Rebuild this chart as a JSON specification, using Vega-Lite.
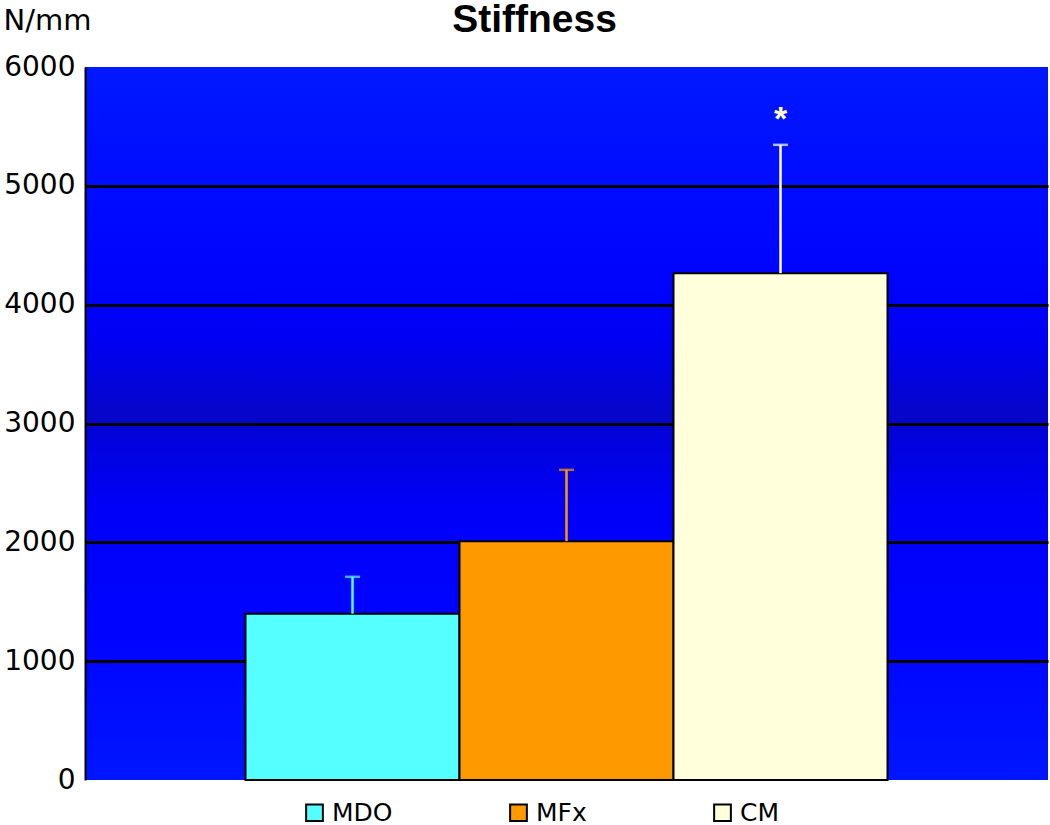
{
  "$schema": "https://vega.github.io/schema/vega-lite/v6.json",
  "autosize": "none",
  "width": 963,
  "height": 713,
  "padding": {"left": 85, "top": 67, "right": 2, "bottom": 45},
  "background": "white",
  "view": {
    "stroke": null,
    "fill": {
      "gradient": "linear", "x1": 0, "y1": 0, "x2": 0, "y2": 1,
      "stops": [
        {"offset": 0, "color": "#0018ff"},
        {"offset": 0.25, "color": "#0006ff"},
        {"offset": 0.38, "color": "#0000f4"},
        {"offset": 0.49, "color": "#0606c8"},
        {"offset": 0.52, "color": "#0202dc"},
        {"offset": 0.62, "color": "#0000f8"},
        {"offset": 0.8, "color": "#0004ff"},
        {"offset": 1, "color": "#0016ff"}
      ]
    }
  },
  "data": {
    "values": [
      {"group": "MDO", "mean": 1400, "upper": 1710, "sig": ""},
      {"group": "MFx", "mean": 2010, "upper": 2610, "sig": ""},
      {"group": "CM", "mean": 4265, "upper": 5345, "sig": "*"}
    ]
  },
  "encoding": {
    "x": {
      "field": "group",
      "type": "nominal",
      "sort": ["MDO", "MFx", "CM"],
      "scale": {"paddingInner": 0, "paddingOuter": 0.75},
      "axis": {
        "orient": "top",
        "labels": false,
        "ticks": false,
        "domain": false,
        "grid": false,
        "title": "Stiffness",
        "titleFont": "Liberation Sans",
        "titleFontSize": 39,
        "titleFontWeight": "bold",
        "titleColor": "black",
        "titleAlign": "center",
        "titleBaseline": "alphabetic",
        "titleX": 449,
        "titleY": -36
      }
    }
  },
  "layer": [
    {
      "mark": {"type": "bar", "strokeWidth": 2, "opacity": 1},
      "encoding": {
        "y": {
          "field": "mean",
          "type": "quantitative",
          "scale": {"domain": [0, 6000], "nice": false},
          "axis": {
            "values": [0, 1000, 2000, 3000, 4000, 5000, 6000],
            "format": "d",
            "title": "N/mm",
            "titleAngle": 0,
            "titleX": -82,
            "titleY": -38,
            "titleAlign": "left",
            "titleBaseline": "alphabetic",
            "titleFont": "DejaVu Sans",
            "titleFontSize": 29,
            "titleFontWeight": "normal",
            "titleColor": "black",
            "labelFont": "DejaVu Sans",
            "labelFontSize": 28,
            "labelColor": "black",
            "labelPadding": 10,
            "ticks": false,
            "domain": true,
            "domainColor": "black",
            "domainWidth": 2,
            "grid": true,
            "gridColor": "black",
            "gridWidth": 3,
            "gridOpacity": {"condition": {"test": "datum.value == 0 || datum.value == 6000", "value": 0}, "value": 1}
          }
        },
        "fill": {
          "field": "group",
          "type": "nominal",
          "sort": ["MDO", "MFx", "CM"],
          "scale": {"domain": ["MDO", "MFx", "CM"], "range": ["#55ffff", "#ff9900", "#ffffdc"]},
          "legend": {
            "title": null,
            "orient": "none",
            "direction": "horizontal",
            "columns": 3,
            "gridAlign": "all",
            "columnPadding": 113,
            "legendX": 217,
            "legendY": 733,
            "symbolType": "square",
            "symbolSize": 280,
            "symbolStrokeWidth": 2,
            "symbolOpacity": 1,
            "labelFont": "DejaVu Sans",
            "labelFontSize": 25,
            "labelColor": "black",
            "labelOffset": 5,
            "labelLimit": 200
          }
        },
        "stroke": {
          "field": "group",
          "type": "nominal",
          "sort": ["MDO", "MFx", "CM"],
          "scale": {"domain": ["MDO", "MFx", "CM"], "range": ["black", "black", "black"]},
          "legend": {
            "title": null,
            "orient": "none",
            "direction": "horizontal",
            "columns": 3,
            "gridAlign": "all",
            "columnPadding": 113,
            "legendX": 217,
            "legendY": 733,
            "symbolType": "square",
            "symbolSize": 280,
            "symbolStrokeWidth": 2,
            "symbolOpacity": 1,
            "labelFont": "DejaVu Sans",
            "labelFontSize": 25,
            "labelColor": "black",
            "labelOffset": 5,
            "labelLimit": 200
          }
        }
      }
    },
    {
      "mark": {"type": "rule", "strokeWidth": 2.5},
      "encoding": {
        "y": {"field": "mean", "type": "quantitative"},
        "y2": {"field": "upper"},
        "color": {
          "field": "group",
          "type": "nominal",
          "scale": {"domain": ["MDO", "MFx", "CM"], "range": ["#55ffff", "#ff9900", "#ffffff"]},
          "legend": null
        }
      }
    },
    {
      "mark": {"type": "tick", "size": 15, "thickness": 2.5, "orient": "horizontal"},
      "encoding": {
        "y": {"field": "upper", "type": "quantitative"},
        "color": {
          "field": "group",
          "type": "nominal",
          "scale": {"domain": ["MDO", "MFx", "CM"], "range": ["#55ffff", "#ff9900", "#ffffff"]},
          "legend": null
        }
      }
    },
    {
      "mark": {"type": "text", "font": "Liberation Sans", "fontSize": 34, "fontWeight": "bold", "color": "#ffffcc", "baseline": "alphabetic", "dy": -15},
      "encoding": {
        "y": {"field": "upper", "type": "quantitative"},
        "text": {"field": "sig"}
      }
    }
  ]
}
